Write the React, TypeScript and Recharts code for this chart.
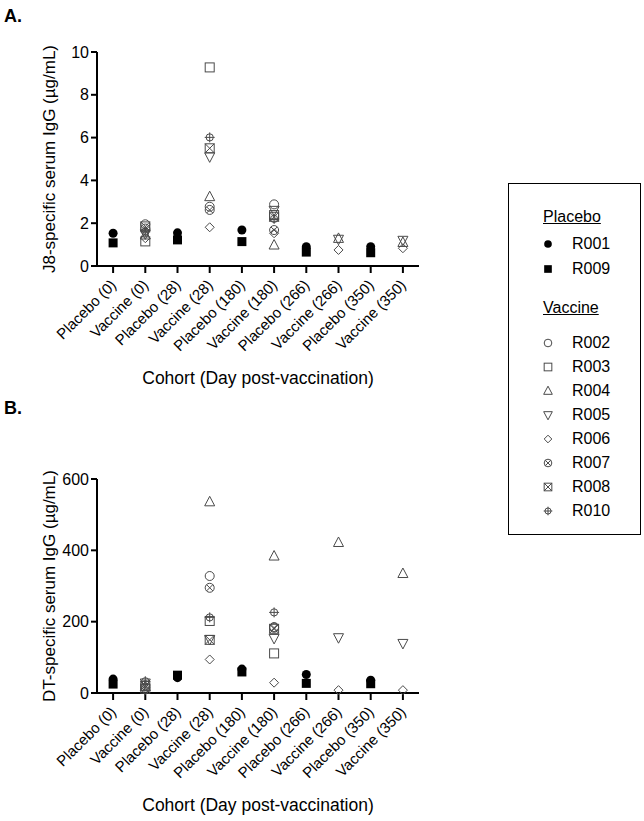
import React from "react";
import { ScatterChart, Scatter, XAxis, YAxis, Label } from "recharts";

// Cohort order on the x axis (group + day post-vaccination)
const cohorts = [
  "Placebo (0)",
  "Vaccine (0)",
  "Placebo (28)",
  "Vaccine (28)",
  "Placebo (180)",
  "Vaccine (180)",
  "Placebo (266)",
  "Vaccine (266)",
  "Placebo (350)",
  "Vaccine (350)",
];
const days = [0, 28, 180, 266, 350];

const j8Ticks = [0, 2, 4, 6, 8, 10];
const dtTicks = [0, 200, 400, 600];

// J8-specific serum IgG (µg/mL), one value per day (null = not sampled)
const j8R001 = [1.53, 1.55, 1.68, 0.9, 0.9];
const j8R009 = [1.08, 1.22, 1.14, 0.65, 0.62];
const j8R002 = [1.95, 2.77, 2.88, null, null];
const j8R003 = [1.15, 9.28, 2.38, null, null];
const j8R004 = [1.45, 3.24, 0.98, 1.29, 1.1];
const j8R005 = [1.5, 5.1, 2.6, 1.25, 1.2];
const j8R006 = [1.3, 1.81, 1.53, 0.75, 0.83];
const j8R007 = [1.75, 2.62, 1.68, null, null];
const j8R008 = [1.85, 5.5, 2.3, null, null];
const j8R010 = [1.6, 6.01, 2.2, null, null];

// DT-specific serum IgG (µg/mL)
const dtR001 = [39, 43, 67, 52, 36];
const dtR009 = [25, 50, 59, 27, 26];
const dtR002 = [22, 328, 185, null, null];
const dtR003 = [12, 202, 111, null, null];
const dtR004 = [18, 536, 384, 422, 335];
const dtR005 = [28, 150, 153, 155, 139];
const dtR006 = [8, 94, 29, 8, 8];
const dtR007 = [15, 295, 183, null, null];
const dtR008 = [20, 149, 180, null, null];
const dtR010 = [33, 212, 226, null, null];

type Kind =
  | "dot"
  | "block"
  | "circle"
  | "square"
  | "tri"
  | "triDown"
  | "diamond"
  | "circleX"
  | "squareX"
  | "circlePlus";

const subjects: { id: string; vaccine: boolean; kind: Kind; j8: (number | null)[]; dt: (number | null)[] }[] = [
  { id: "R001", vaccine: false, kind: "dot", j8: j8R001, dt: dtR001 },
  { id: "R009", vaccine: false, kind: "block", j8: j8R009, dt: dtR009 },
  { id: "R002", vaccine: true, kind: "circle", j8: j8R002, dt: dtR002 },
  { id: "R003", vaccine: true, kind: "square", j8: j8R003, dt: dtR003 },
  { id: "R004", vaccine: true, kind: "tri", j8: j8R004, dt: dtR004 },
  { id: "R005", vaccine: true, kind: "triDown", j8: j8R005, dt: dtR005 },
  { id: "R006", vaccine: true, kind: "diamond", j8: j8R006, dt: dtR006 },
  { id: "R007", vaccine: true, kind: "circleX", j8: j8R007, dt: dtR007 },
  { id: "R008", vaccine: true, kind: "squareX", j8: j8R008, dt: dtR008 },
  { id: "R010", vaccine: true, kind: "circlePlus", j8: j8R010, dt: dtR010 },
];

const OPEN = "#4a4a4a";

function Marker({ cx, cy, kind, s = 1 }: { cx: number; cy: number; kind: Kind; s?: number }) {
  const o = { fill: "none", stroke: OPEN, strokeWidth: 1 };
  const r = 4.5 * s;
  switch (kind) {
    case "dot":
      return <circle cx={cx} cy={cy} r={r} fill="#000" />;
    case "block":
      return <rect x={cx - r} y={cy - r} width={2 * r} height={2 * r} fill="#000" />;
    case "circle":
      return <circle cx={cx} cy={cy} r={r} {...o} />;
    case "square":
      return <rect x={cx - r} y={cy - r} width={2 * r} height={2 * r} {...o} />;
    case "tri":
      return <polygon points={`${cx},${cy - r - 1} ${cx + r + 0.5},${cy + r - 0.5} ${cx - r - 0.5},${cy + r - 0.5}`} {...o} />;
    case "triDown":
      return <polygon points={`${cx},${cy + r + 1} ${cx + r + 0.5},${cy - r + 0.5} ${cx - r - 0.5},${cy - r + 0.5}`} {...o} />;
    case "diamond":
      return <polygon points={`${cx},${cy - r} ${cx + r},${cy} ${cx},${cy + r} ${cx - r},${cy}`} {...o} />;
    case "circleX": {
      const d = r * 0.7;
      return (
        <g {...o}>
          <circle cx={cx} cy={cy} r={r} />
          <line x1={cx - d} y1={cy - d} x2={cx + d} y2={cy + d} />
          <line x1={cx - d} y1={cy + d} x2={cx + d} y2={cy - d} />
        </g>
      );
    }
    case "squareX":
      return (
        <g {...o}>
          <rect x={cx - r} y={cy - r} width={2 * r} height={2 * r} />
          <line x1={cx - r} y1={cy - r} x2={cx + r} y2={cy + r} />
          <line x1={cx - r} y1={cy + r} x2={cx + r} y2={cy - r} />
        </g>
      );
    case "circlePlus": {
      const rr = r * 0.8;
      return (
        <g {...o}>
          <circle cx={cx} cy={cy} r={rr} />
          <line x1={cx - r - 0.5} y1={cy} x2={cx + r + 0.5} y2={cy} />
          <line x1={cx} y1={cy - r - 0.5} x2={cx} y2={cy + r + 0.5} />
        </g>
      );
    }
  }
  return null;
}

const CohortTick = (props: any) => {
  const { x, y, payload } = props;
  const ax = x + 4;
  const ay = y + 11;
  return (
    <text x={ax} y={ay} transform={`rotate(-45 ${ax} ${ay})`} textAnchor="end" fontSize={15} fill="#000">
      {cohorts[payload.value]}
    </text>
  );
};

function points(vals: (number | null)[], vaccine: boolean) {
  return days
    .map((_, i) => ({ x: i * 2 + (vaccine ? 1 : 0), y: vals[i] }))
    .filter((p) => p.y != null);
}

const AXIS = { stroke: "#000", strokeWidth: 2 };

function Panel({
  top,
  yLabel,
  yMax,
  yTicks,
  field,
}: {
  top: number;
  yLabel: string;
  yMax: number;
  yTicks: number[];
  field: "j8" | "dt";
}) {
  return (
    <div style={{ position: "absolute", left: 0, top, width: 430, height: 400 }}>
      <ScatterChart width={430} height={400} margin={{ top: 52, right: 11, left: 0, bottom: 0 }}>
        <XAxis
          type="number"
          dataKey="x"
          domain={[-0.5, 9.5]}
          ticks={cohorts.map((_, i) => i)}
          interval={0}
          tick={<CohortTick />}
          tickSize={7}
          tickMargin={2}
          height={134}
          axisLine={AXIS}
          tickLine={AXIS}
        >
          <Label
            value="Cohort (Day post-vaccination)"
            position="insideBottom"
            offset={16}
            fill="#000"
            fontSize={17.5}
          />
        </XAxis>
        <YAxis
          type="number"
          dataKey="y"
          domain={[0, yMax]}
          ticks={yTicks}
          interval={0}
          width={97}
          tickSize={6}
          tickMargin={2}
          tick={{ fill: "#000", fontSize: 16 }}
          axisLine={AXIS}
          tickLine={AXIS}
        >
          <Label value={yLabel} angle={-90} position="center" fill="#000" fontSize={17} />
        </YAxis>
        {subjects.map((s) => (
          <Scatter
            key={s.id}
            name={s.id}
            data={points(s[field], s.vaccine)}
            isAnimationActive={false}
            shape={(p: any) => <Marker cx={p.cx} cy={p.cy} kind={s.kind} />}
          />
        ))}
      </ScatterChart>
    </div>
  );
}

function LegendRow({ id, kind, y }: { id: string; kind: Kind; y: number }) {
  return (
    <div style={{ position: "absolute", left: 0, top: y - 10, height: 20, width: 130 }}>
      <svg width={20} height={20} style={{ position: "absolute", left: 29, top: 0 }}>
        <Marker cx={10} cy={10} kind={kind} s={0.85} />
      </svg>
      <span style={{ position: "absolute", left: 63, top: 1, fontSize: 16, lineHeight: "18px" }}>{id}</span>
    </div>
  );
}

export default function App() {
  const legendTop = 183;
  const rowsY: Record<string, number> = {
    R001: 243,
    R009: 268,
    R002: 342,
    R003: 366,
    R004: 390,
    R005: 414,
    R006: 438,
    R007: 462,
    R008: 486,
    R010: 510,
  };
  return (
    <div
      style={{
        position: "absolute",
        left: 0,
        top: 0,
        width: 644,
        height: 821,
        background: "#fff",
        fontFamily: "'Liberation Sans', Arial, sans-serif",
        color: "#000",
      }}
    >
      <div style={{ position: "absolute", left: 4, top: 6, fontSize: 18, fontWeight: "bold" }}>A.</div>
      <div style={{ position: "absolute", left: 4, top: 398, fontSize: 18, fontWeight: "bold" }}>B.</div>
      <Panel top={0} yLabel="J8-specific serum IgG (µg/mL)" yMax={10} yTicks={j8Ticks} field="j8" />
      <Panel top={427} yLabel="DT-specific serum IgG (µg/mL)" yMax={600} yTicks={dtTicks} field="dt" />
      <div
        style={{
          position: "absolute",
          left: 508,
          top: legendTop,
          width: 131,
          height: 350,
          border: "1.5px solid #000",
        }}
      >
        <span
          style={{ position: "absolute", left: 34, top: 217 - legendTop - 10, fontSize: 16, textDecoration: "underline" }}
        >
          Placebo
        </span>
        <span
          style={{ position: "absolute", left: 34, top: 308 - legendTop - 10, fontSize: 16, textDecoration: "underline" }}
        >
          Vaccine
        </span>
        {subjects.map((s) => (
          <LegendRow key={s.id} id={s.id} kind={s.kind} y={rowsY[s.id] - legendTop} />
        ))}
      </div>
    </div>
  );
}
